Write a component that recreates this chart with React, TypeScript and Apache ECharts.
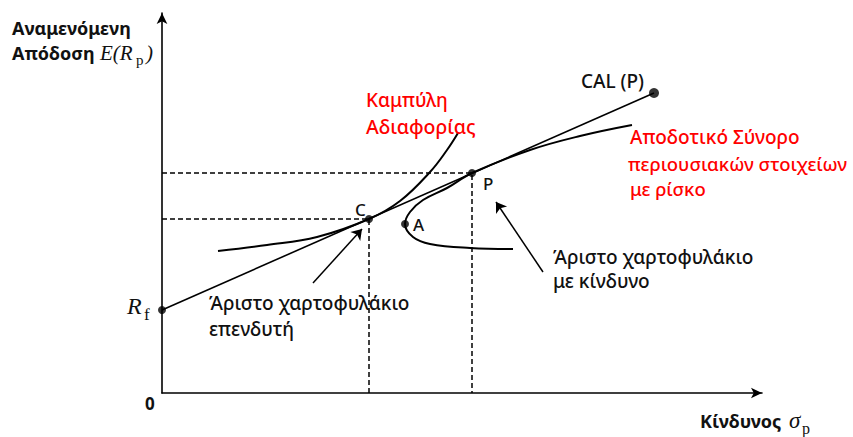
import React, { useEffect, useRef } from 'react';
import * as echarts from 'echarts';

// Data in arbitrary units (σp on x, E(Rp) on y)
const rf = [0, 8.3];
const calLine = [[0, 8.3], [49.2, 30.0]];
const frontier = [
  [35.1, 14.4], [30.8, 14.5], [26.8, 14.9], [25.1, 15.6], [24.3, 16.9],
  [24.8, 18.1], [26.1, 19.3], [28.5, 20.5], [31.0, 22.0], [36.8, 24.3],
  [41.8, 25.7], [47.0, 26.8],
];
const indifference = [
  [5.6, 14.2], [10.5, 14.8], [15.5, 15.6], [20.7, 17.4], [23.8, 19.2],
  [26.8, 22.1], [28.5, 24.3], [29.6, 26.0],
];
const pointC = [20.7, 17.4];
const pointP = [31.0, 22.0];
const pointA = [24.3, 16.9];
const calEnd = [49.2, 30.0];
const dashC = [[0, 17.4], [20.7, 17.4], [20.7, 0]];
const dashP = [[0, 22.0], [31.0, 22.0], [31.0, 0]];
const arrowC = [[15.1, 11.0], [20.0, 16.4]];
const arrowP = [[38.1, 12.1], [33.4, 19.1]];

const SANS = '"Noto Sans", "Open Sans", sans-serif';
const SERIF = '"Liberation Serif", "DejaVu Serif", serif';

function txt(text: string, x: number, y: number, opts: any = {}) {
  return {
    type: 'text',
    x,
    y,
    z: 100,
    style: {
      text,
      fill: opts.fill || '#111',
      fontFamily: opts.family || SANS,
      fontSize: opts.size || 18,
      fontWeight: opts.weight || 500,
      fontStyle: opts.style || 'normal',
      verticalAlign: 'middle',
      align: 'left',
    },
  };
}

export default function App() {
  const ref = useRef<HTMLDivElement>(null);
  useEffect(() => {
    const chart = echarts.init(ref.current!, null, { renderer: 'svg' });
    const black = '#000';
    const red = '#ff0000';
    const option: any = {
      animation: false,
      backgroundColor: '#fff',
      grid: { left: 162, right: 91, top: 13, bottom: 44, containLabel: false },
      xAxis: {
        type: 'value', min: 0, max: 60,
        axisLine: { show: true, onZero: false, symbol: ['none', 'arrow'], symbolSize: [8, 11], lineStyle: { color: black, width: 1.6 } },
        axisTick: { show: false }, axisLabel: { show: false }, splitLine: { show: false },
      },
      yAxis: {
        type: 'value', min: 0, max: 38,
        axisLine: { show: true, onZero: false, symbol: ['none', 'arrow'], symbolSize: [8, 11], lineStyle: { color: black, width: 1.6 } },
        axisTick: { show: false }, axisLabel: { show: false }, splitLine: { show: false },
      },
      series: [
        { type: 'line', data: dashC, symbol: 'none', lineStyle: { color: black, width: 1.5, type: [5, 3] }, z: 1 },
        { type: 'line', data: dashP, symbol: 'none', lineStyle: { color: black, width: 1.5, type: [5, 3] }, z: 1 },
        { type: 'line', data: calLine, symbol: 'none', lineStyle: { color: black, width: 1.6 }, z: 3 },
        { type: 'line', data: frontier, smooth: 0.4, symbol: 'none', lineStyle: { color: black, width: 2 }, z: 3 },
        { type: 'line', data: indifference, smooth: 0.4, symbol: 'none', lineStyle: { color: black, width: 2 }, z: 3 },
        {
          type: 'scatter', symbolSize: 8, itemStyle: { color: black }, z: 5,
          data: [rf, pointC, pointP, pointA],
        },
        { type: 'scatter', symbolSize: 10, itemStyle: { color: black }, z: 5, data: [calEnd] },
        {
          type: 'lines', coordinateSystem: 'cartesian2d', symbol: ['none', 'arrow'], symbolSize: 10,
          lineStyle: { color: black, width: 1.5, opacity: 1 }, z: 4,
          data: [{ coords: arrowC }, { coords: arrowP }],
        },
      ],
      graphic: [
        txt('Αναμενόμενη', 12, 28, { weight: 'bold' }),
        txt('Απόδοση', 12, 53, { weight: 'bold' }),
        txt('E(R', 100, 53, { family: SERIF, style: 'italic', size: 21, weight: 'normal' }),
        txt('p', 136, 60, { family: SERIF, size: 15, weight: 'normal' }),
        txt(')', 146, 53, { family: SERIF, style: 'italic', size: 21, weight: 'normal' }),
        txt('CAL (P)', 581, 81, { size: 19 }),
        txt('Καμπύλη', 366, 100, { fill: red, size: 19 }),
        txt('Αδιαφορίας', 366, 126, { fill: red, size: 19.5 }),
        txt('Αποδοτικό Σύνορο', 630, 137, { fill: red, size: 19 }),
        txt('περιουσιακών στοιχείων', 628, 163, { fill: red, size: 18.5 }),
        txt('με ρίσκο', 630, 188, { fill: red, size: 18.5 }),
        txt('C', 355, 209, { size: 17 }),
        txt('P', 483, 183, { size: 17 }),
        txt('A', 413, 224, { size: 17 }),
        txt('Άριστο χαρτοφυλάκιο', 209, 303, { size: 19 }),
        txt('επενδυτή', 209, 329, { size: 19 }),
        txt('Άριστο χαρτοφυλάκιο', 553, 257, { size: 19 }),
        txt('με κίνδυνο', 553, 281, { size: 19 }),
        txt('0', 145, 403, { weight: 'bold', size: 17 }),
        txt('Κίνδυνος', 700, 421, { weight: 'bold' }),
        txt('σ', 789, 420, { family: SERIF, style: 'italic', size: 23, weight: 'normal' }),
        txt('p', 802, 428, { family: SERIF, size: 16, weight: 'normal' }),
        txt('R', 127, 306, { family: SERIF, style: 'italic', size: 24, weight: 'normal' }),
        txt('f', 144, 314, { family: SERIF, size: 17, weight: 'normal' }),
      ],
    };
    chart.setOption(option);
    return () => chart.dispose();
  }, []);
  return <div ref={ref} style={{ position: 'fixed', left: 0, top: 0, width: 853, height: 437 }} />;
}
